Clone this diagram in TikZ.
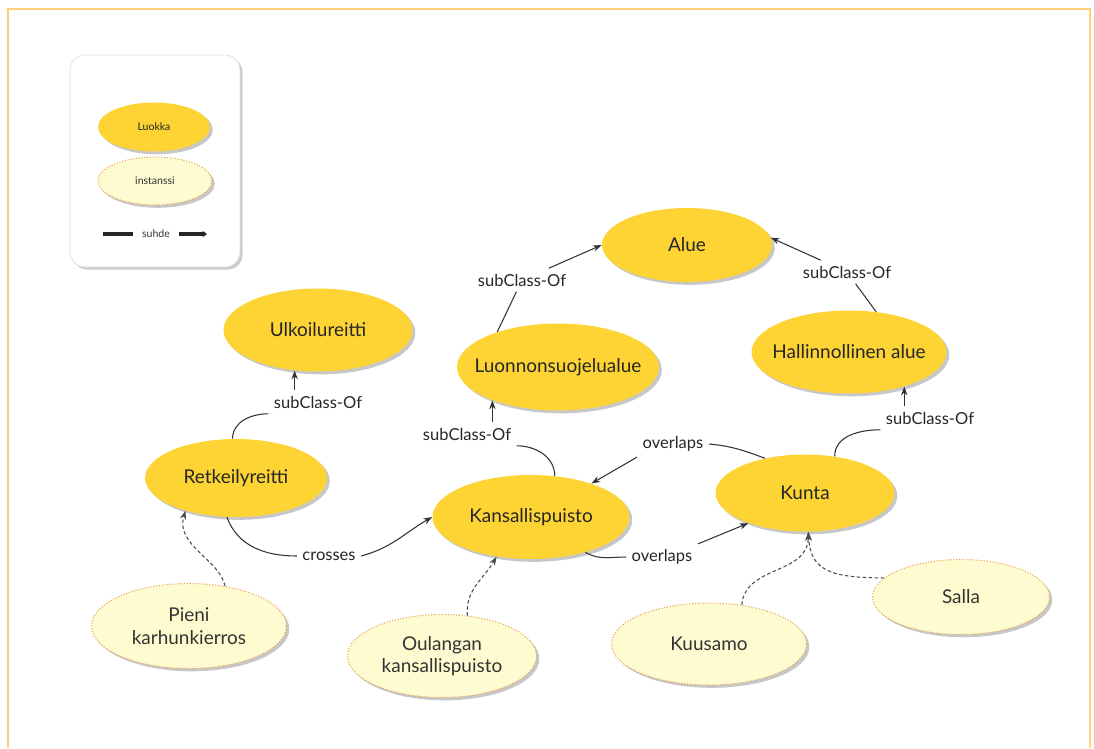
\documentclass[tikz,border=0pt]{standalone}
\usepackage{fontspec}
\setmainfont{Lato}
\usetikzlibrary{shapes,arrows.meta,positioning,calc,shadows}

\definecolor{classfill}{RGB}{253,212,52}
\definecolor{instfill}{RGB}{255,251,209}
\definecolor{instline}{RGB}{232,160,80}
\definecolor{framecol}{RGB}{255,208,120}

\begin{document}
\begin{tikzpicture}[
    x=0.02cm, y=-0.02cm,
    >={Stealth[length=5pt,width=3.6pt]},
    softshadow/.style = {drop shadow={shadow xshift=1.6pt, shadow yshift=-1.6pt, fill=black, opacity=0.22}},
    class/.style = {ellipse, fill=classfill, inner xsep=-1cm, minimum width=3.9cm, minimum height=1.66cm, text=black!85, font=\fontsize{10.8}{12.8}\selectfont, softshadow},
    instance/.style = {ellipse, fill=instfill, draw=instline, line width=0.6pt, densely dotted, inner xsep=-1cm, minimum width=3.9cm, minimum height=1.66cm, align=center, text=black!80, font=\fontsize{10.8}{12.8}\selectfont, softshadow},
    rel/.style = {inner sep=3pt, text=black!85, font=\fontsize{9.4}{11}\selectfont},
    link/.style = {draw=black!80, line width=0.6pt},
    instlink/.style = {draw=black!70, line width=0.6pt, dash pattern=on 2pt off 1.4pt},
    legendbox/.style = {rectangle, rounded corners=0.3cm, fill=white, draw=black!12, minimum width=3.4cm, minimum height=4.24cm, drop shadow={shadow xshift=1.5pt, shadow yshift=-1.5pt, fill=black, opacity=0.2}}
]
    \useasboundingbox (0,0) rectangle (1094,748);
    \draw[framecol, line width=1.2pt] (8,748) |- (1090,9) -- (1090,748);

    % legend
    \node[legendbox] (legend) at (155,161) {};
    \node[class, minimum width=2.24cm, minimum height=0.98cm, font=\fontsize{6}{7}\selectfont] (luokka) at (154,127) {Luokka};
    \node[instance, minimum width=2.28cm, minimum height=0.96cm, font=\fontsize{6}{7}\selectfont] (instanssi) at (155,181) {instanssi};
    \node[inner xsep=5pt, text=black!80, font=\fontsize{6}{7}\selectfont] (suhde) at (156,234) {suhde};
    \coordinate (sl) at (103,234);
    \coordinate (sr) at (207,234);
    \draw[line width=2.2pt, black!85] (sl) -- (suhde.west);
    \draw[line width=2.2pt, black!85, -{Stealth[length=2.5pt,width=3.5pt]}] (suhde.east) -- (sr);

    % classes
    \node[class, minimum width=3.4cm, minimum height=1.48cm] (alue) at (687,245) {Alue};
    \node[class, minimum width=3.78cm] (ulko) at (318,330) {Ulkoilureitti};
    \node[class, minimum width=4.04cm, minimum height=1.74cm] (luonno) at (558,367) {Luonnonsuojelualue};
    \node[class] (hall) at (849,352) {Hallinnollinen alue};
    \node[class, minimum width=3.64cm, minimum height=1.56cm] (retk) at (236,478) {Retkeilyreitti};
    \node[class, minimum width=3.94cm, minimum height=1.68cm] (kans) at (531,517) {Kansallispuisto};
    \node[class, minimum width=3.58cm, minimum height=1.54cm] (kunta) at (805,493) {Kunta};

    % instances
    \node[instance, minimum height=1.7cm] (pieni) at (189,626) {Pieni\\karhunkierros};
    \node[instance, minimum width=3.78cm] (oul) at (442,656) {Oulangan\\kansallispuisto};
    \node[instance, minimum height=1.64cm] (kuus) at (709,644) {Kuusamo};
    \node[instance, minimum width=3.54cm, minimum height=1.5cm] (salla) at (961,597) {Salla};

    % relation labels
    \node[rel] (subLuonno) at (522,280) {subClass-Of};
    \node[rel] (subHall) at (847,272) {subClass-Of};
    \node[rel] (subRetk) at (318,402) {subClass-Of};
    \node[rel] (subKans) at (467,434) {subClass-Of};
    \node[rel] (subKunta) at (930,418) {subClass-Of};
    \node[rel] (crossRetk) at (329,556) {crosses};
    \node[rel] (overKunta) at (673,444) {overlaps};
    \node[rel] (overKans) at (662,557) {overlaps};

    % subClass-Of
    \draw[link] (luonno.150) -- (subLuonno);
    \draw[link, ->] (subLuonno) -- (alue.west);
    \draw[link] (hall.56) -- (subHall);
    \draw[link, ->] (subHall) -- (alue.5);
    \draw[link] (retk.95) to[out=90, in=180] (subRetk.south west);
    \draw[link, ->] (ulko.240 |- subRetk.north) -- (ulko.240);
    \draw[link] (kans.60) to[out=90, in=0] (subKans.south east);
    \draw[link, ->] (luonno.207 |- subKans.north) -- (luonno.207);
    \draw[link] (kunta.51) to[out=90, in=180] (subKunta.south west);
    \draw[link, ->] (hall.328 |- subKunta.north) -- (hall.328);

    % crosses, overlaps
    \draw[link] (retk.257) to[out=-70, in=180] (crossRetk.west);
    \draw[link, ->] (crossRetk.east) to[out=15, in=210] (kans.west);
    \draw[link] (kunta.139) to[out=160, in=-5] (overKunta.east);
    \draw[link, ->] (overKunta.south west) -- (kans.29);
    \draw[link] (kans.-33) to[out=-30, in=180] (overKans.west);
    \draw[link, ->] (overKans.north east) -- (kunta.208);

    % instance of
    \draw[instlink, ->] (pieni.48) .. controls (220,560) and (175,545) .. (retk.213);
    \draw[instlink, ->] (oul.58) to[out=95, in=240] (kans.229);
    \draw[instlink, ->] (kuus.50) .. controls (745,565) and (808,575) .. (kunta.275);
    \draw[instlink, ->] (salla.166) .. controls (830,578) and (810,570) .. (kunta.275);
\end{tikzpicture}
\end{document}
